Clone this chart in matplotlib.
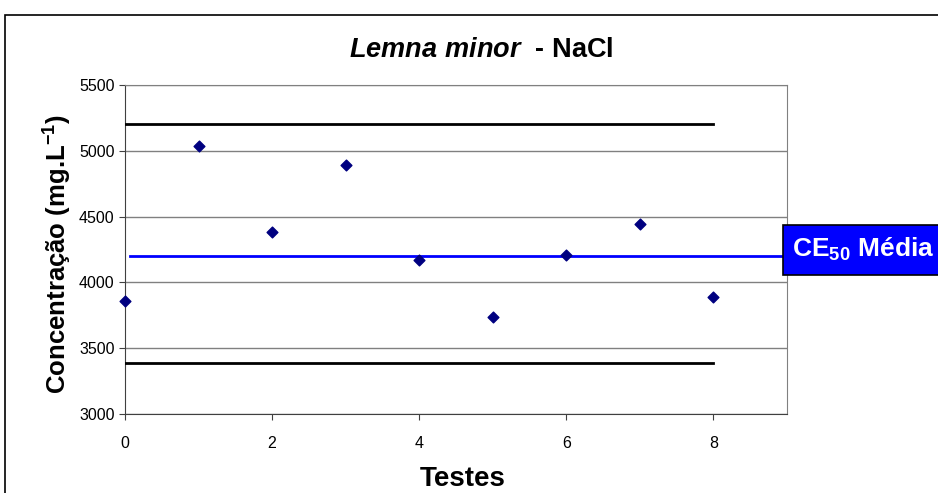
import matplotlib
matplotlib.use('Agg')
import matplotlib.pyplot as plt
import matplotlib.patches as mpatches

plt.rcParams['font.family'] = ['Liberation Sans', 'DejaVu Sans']
plt.rcParams['mathtext.fontset'] = 'custom'
plt.rcParams['mathtext.rm'] = 'Liberation Sans:bold'
plt.rcParams['mathtext.bf'] = 'Liberation Sans:bold'
plt.rcParams['mathtext.it'] = 'Liberation Sans:bold:italic'

# data
testes = [0, 1, 2, 3, 4, 5, 6, 7, 8]
concentracao = [3862, 5040, 4385, 4895, 4168, 3737, 4210, 4440, 3889]
limite_sup = 5200
limite_inf = 3390
ce50_media = 4200

W, H = 938, 493
fig = plt.figure(figsize=(W / 100, H / 100), dpi=100)
fig.patch.set_facecolor('white')
ax = fig.add_axes([125/W, 1 - 414/H, (787 - 125)/W, (414 - 85)/H])

ax.set_xlim(0, 9)
ax.set_ylim(3000, 5500)
ax.set_xticks([0, 2, 4, 6, 8])
ax.set_yticks(range(3000, 5501, 500))
ax.grid(axis='y', color='#808080', linewidth=1)
ax.set_axisbelow(True)

# limit lines and mean line
ax.plot([0, 8], [limite_sup, limite_sup], color='black', linewidth=2, zorder=3)
ax.plot([0, 8], [limite_inf, limite_inf], color='black', linewidth=2, zorder=3)
ax.plot([0.07, 8.95], [ce50_media, ce50_media], color='#0000ff', linewidth=2,
        zorder=3, clip_on=False)

ax.scatter(testes, concentracao, marker='D', s=30, color='#000080', zorder=4,
           clip_on=False)

for side in ['top', 'right']:
    ax.spines[side].set_color('#808080')
for side in ['left', 'bottom']:
    ax.spines[side].set_color('#404040')
ax.tick_params(direction='out', length=4, color='#404040', labelsize=11.5,
               labelcolor='black')
ax.tick_params(axis='x', pad=12)

# labels and title placed in figure pixels
fig.text(463/W, 1 - 486/H, 'Testes', fontsize=20, fontweight='bold',
         ha='center', va='baseline')
fig.text(58/W, 1 - 254/H, 'Concentração (mg.L$^{-1}$)', fontsize=18.5,
         fontweight='bold', rotation=90, ha='center', va='center')
fig.text(481/W, 1 - 57/H, r'$Lemna\ minor$  - NaCl', fontsize=19.5,
         fontweight='bold', ha='center', va='baseline')

# CE50 label box
fig.patches.append(mpatches.Rectangle((783/W, 1 - 275/H), 0.2, 50/H,
                                      transform=fig.transFigure,
                                      facecolor='#0000ff', edgecolor='black',
                                      linewidth=1.2, zorder=5))
fig.text(792/W, 1 - 257/H, r'CE$_{\mathbf{50}}$ Média', color='white',
         fontsize=19, fontweight='bold', va='baseline', ha='left', zorder=6)

# outer chart frame
fig.patches.append(mpatches.Rectangle((5/W, -0.1), 1.1, 1.1 - 15/H,
                                      transform=fig.transFigure,
                                      facecolor='none', edgecolor='black',
                                      linewidth=1.2, zorder=1))

fig.savefig('out.png', dpi=100, facecolor='white')
